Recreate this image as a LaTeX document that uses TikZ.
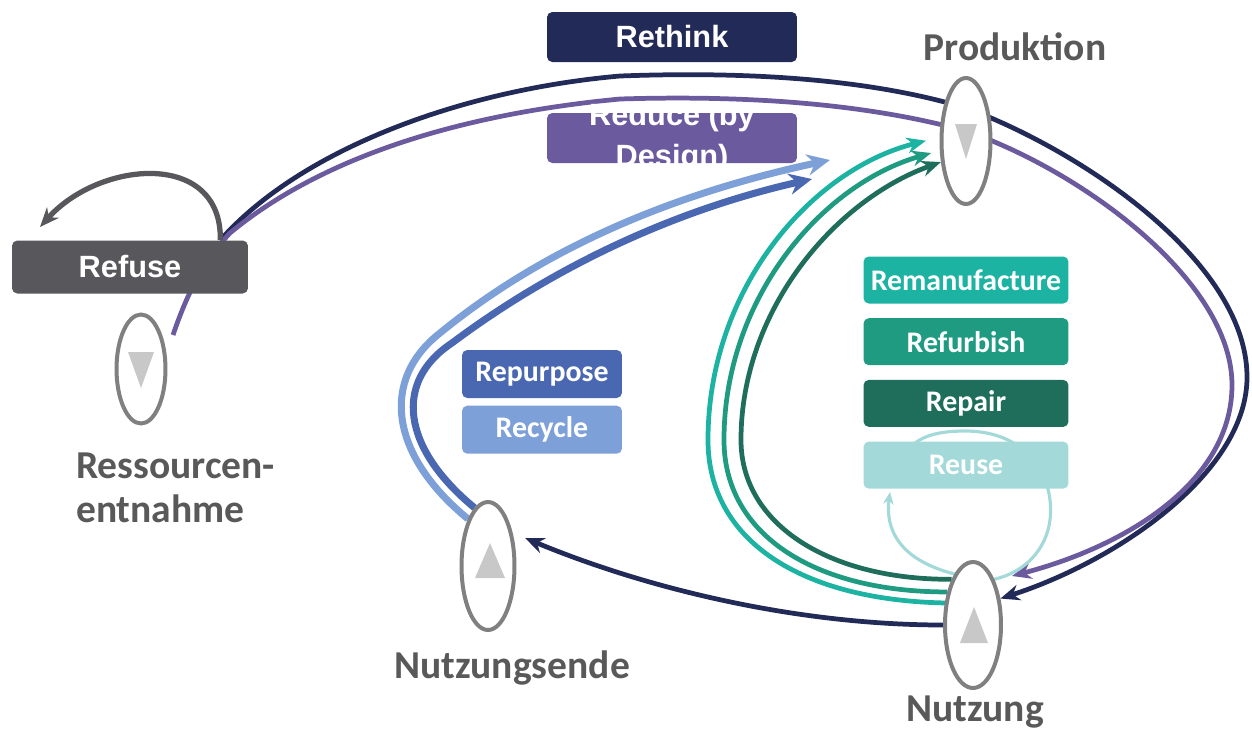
\documentclass[tikz,border=0pt]{standalone}
\usepackage{fontspec}
\usepackage{tikz}
\usetikzlibrary{positioning, arrows.meta, shapes.geometric, backgrounds, calc}
\newfontfamily\arialfont{Liberation Sans}
\newfontfamily\calibrifont{Carlito}

\definecolor{rethinkcol}{HTML}{222A57}
\definecolor{reducecol}{HTML}{6B5B9E}
\definecolor{refusecol}{HTML}{58585C}
\definecolor{remancol}{HTML}{1DB3A3}
\definecolor{refurbcol}{HTML}{1F9B82}
\definecolor{repaircol}{HTML}{1F6E5C}
\definecolor{reusecol}{HTML}{A3D9D8}
\definecolor{repurpcol}{HTML}{4A68B2}
\definecolor{recyccol}{HTML}{7EA0D8}
\definecolor{labelgray}{HTML}{595959}
\definecolor{ringgray}{HTML}{808080}
\definecolor{trigray}{HTML}{C8C8C8}

\tikzset{
    rbox/.style={rectangle, rounded corners=3pt, text=white, inner sep=0pt},
    abox/.style={rbox, font=\arialfont\bfseries\fontsize{17.5}{21}\selectfont, minimum width=5cm, minimum height=1cm},
    cbox/.style={rbox, font=\calibrifont\bfseries\fontsize{17}{20}\selectfont, minimum width=4.1cm, minimum height=0.94cm},
    stage/.style={ellipse, draw=ringgray, line width=0.08cm, fill=white, inner sep=0pt, minimum width=0.98cm, minimum height=2.52cm},
    stagelabel/.style={text=labelgray, font=\calibrifont\bfseries\fontsize{22.5}{25}\selectfont},
    tri/.style={fill=trigray},
    flow/.style={line width=2.7pt, -{Stealth[length=11pt, width=9pt]}},
    bigflow/.style={line width=4pt, -{Stealth[length=13pt, width=12pt]}},
}

\begin{document}
\begin{tikzpicture}[x=0.02cm, y=-0.02cm]
    \useasboundingbox (0,0) rectangle (1252,731);

    % stages
    \node[stage] (prod) at (966,141) {};
    \node[stage, minimum height=2.18cm] (res) at (141,369) {};
    \node[stage, minimum width=1.06cm, minimum height=2.56cm] (ende) at (488,566) {};
    \node[stage, minimum width=1.12cm] (nutz) at (973,625) {};

    \fill[tri] ($(prod)+(-11,-17)$) -- ($(prod)+(11,-17)$) -- ($(prod)+(0,18)$) -- cycle;
    \fill[tri] ($(res)+(-13,-17)$) -- ($(res)+(13,-17)$) -- ($(res)+(0,19)$) -- cycle;
    \fill[tri] ($(ende)+(-13,12)$) -- ($(ende)+(17,12)$) -- ($(ende)+(2,-23)$) -- cycle;
    \fill[tri] ($(nutz)+(-13,18)$) -- ($(nutz)+(15,18)$) -- ($(nutz)+(1,-18)$) -- cycle;

    \node[stagelabel] (prodname) at (1015,47) {Produktion};
    \node[stagelabel, align=left, anchor=west] (resname) at (70,488) {Ressourcen-\\entnahme};
    \node[stagelabel] (endename) at (512,668) {Nutzungsende};
    \node[stagelabel] (nutzname) at (975,712) {Nutzung};

    % R-strategies
    \node[abox, fill=rethinkcol] (rethink) at (672,37) {Rethink};
    \node[abox, fill=reducecol, label={[text=white, font=\arialfont\bfseries\fontsize{17.5}{23}\selectfont, align=center]center:Reduce (by\\Design)}] (reduce) at (672,138) {};
    \node[abox, fill=refusecol, minimum width=4.72cm, minimum height=1.06cm] (refuse) at (130,267) {Refuse};

    \node[cbox, fill=remancol] (reman) at (966,280) {Remanufacture};
    \node[cbox, fill=refurbcol, below=0.28cm of reman] (refurb) {Refurbish};
    \node[cbox, fill=repaircol, below=0.28cm of refurb] (repair) {Repair};
    \node[cbox, fill=reusecol, below=0.28cm of repair] (reuse) {Reuse};

    \node[cbox, fill=repurpcol, minimum width=3.2cm, minimum height=0.96cm] (repurp) at (542,374) {Repurpose};
    \node[cbox, fill=recyccol, minimum width=3.2cm, minimum height=0.96cm, below=0.14cm of repurp] (recyc) {Recycle};

    \begin{pgfonlayer}{background}
        \coordinate (refusetop) at ($(refuse.north east)+(-28,0)$);
        \coordinate (refusetip) at (40,227);
        \coordinate (reducestart) at (173,335);
        \coordinate (reducetip) at (1012,576);
        \coordinate (endetip) at (525,538);
        \coordinate (recyctip) at (830,160);
        \coordinate (repurptip) at (812,179);
        \coordinate (reusetip) at (890,492);
        \coordinate (reusearc) at (900,470);

        % outer loops
        \draw[flow, rethinkcol] (refusetop) .. controls (300,150) and (460,90) .. (620,76)
            .. controls (780,70) and (890,85) .. ($(prod)+(0,-33)$)
            .. controls (1080,150) and (1245,260) .. (1247,375)
            .. controls (1249,470) and (1120,560) .. (nutz.44);
        \draw[flow, reducecol] (reducestart) .. controls (185,300) and (200,265) .. (230,233)
            .. controls (300,175) and (420,118) .. (620,99)
            .. controls (780,94) and (890,110) .. ($(prod)+(0,-10)$)
            .. controls (1080,170) and (1232,280) .. (1232,385)
            .. controls (1232,480) and (1130,545) .. (reducetip);
        \draw[flow, refusecol, line width=3pt] (refusetop) .. controls (222,150) and (100,160) .. (refusetip);
        \draw[flow, rethinkcol] (nutz.west) .. controls (800,625) and (650,590) .. (endetip);

        % recycle / repurpose
        \draw[bigflow, recyccol] (ende.113) .. controls (390,455) and (380,380) .. (440,333)
            .. controls (505,280) and (620,205) .. (recyctip);
        \draw[bigflow, repurpcol] (ende.103) .. controls (402,448) and (393,382) .. (452,343)
            .. controls (520,292) and (640,218) .. (repurptip);

        % inner loops
        \draw[flow, remancol, shorten >=0.28cm] (nutz.142) .. controls (800,600) and (708,540) .. (708,440)
            .. controls (708,290) and (810,170) .. (prod.172);
        \draw[flow, refurbcol, shorten >=0.18cm] (nutz.128) .. controls (815,592) and (724,535) .. (724,440)
            .. controls (724,300) and (820,185) .. (prod.200);
        \draw[flow, repaircol] (nutz.115) .. controls (830,580) and (741,525) .. (741,440)
            .. controls (741,310) and (835,200) .. (prod.220);

        \draw[reusecol, line width=1.8pt, -{Stealth[length=7pt, width=6pt]}] (nutz.110) .. controls (900,560) and (885,530) .. (reusetip);
        \draw[reusecol, line width=1.8pt] (reusearc) .. controls (905,437) and (935,431) .. (965,431)
            .. controls (1030,431) and (1055,480) .. (1050,520)
            .. controls (1046,550) and (1025,572) .. (nutz.65);
    \end{pgfonlayer}
\end{tikzpicture}
\end{document}
